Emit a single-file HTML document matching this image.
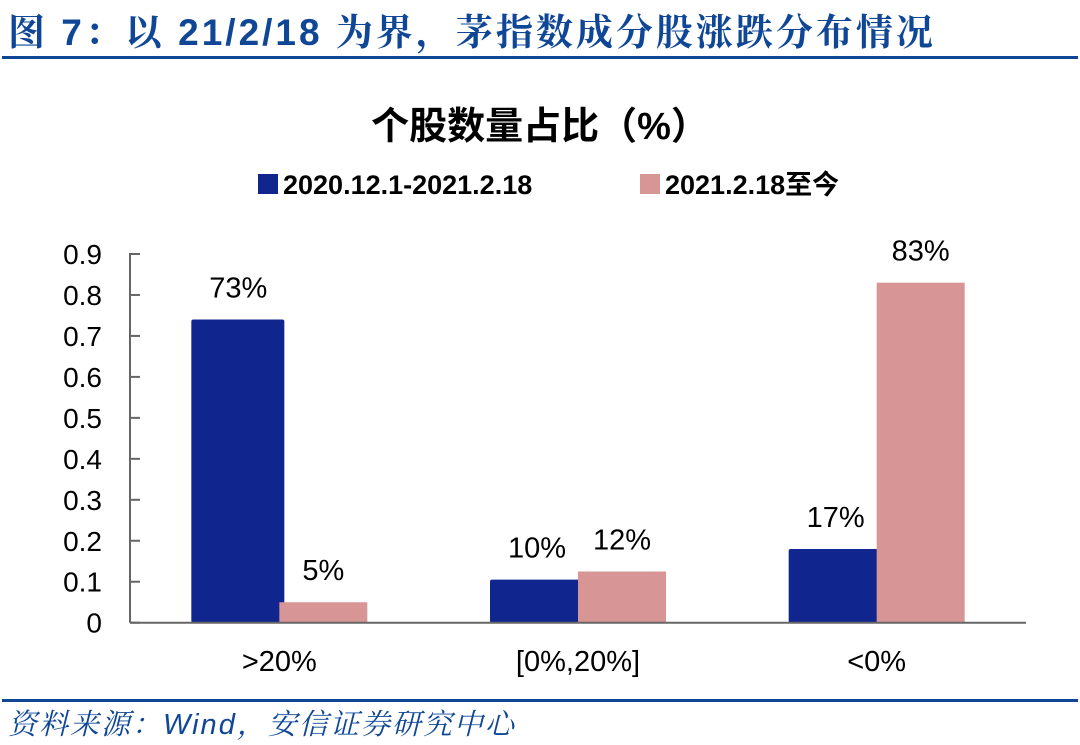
<!DOCTYPE html>
<html><head><meta charset="utf-8"><style>
body{margin:0;background:#fff;width:1080px;height:745px;overflow:hidden;font-family:"Liberation Sans","Noto Sans CJK SC",sans-serif}
.hdr{position:absolute;left:8px;top:2px;font-size:37px;font-weight:bold;color:#0f4796;letter-spacing:3px;font-family:"Liberation Sans","Noto Serif CJK SC",serif;white-space:nowrap}
.line{position:absolute;left:2px;width:1076px;height:3px;background:#0f4796}
.src{position:absolute;left:8px;top:702px;font-size:29px;font-style:italic;color:#0f4796;letter-spacing:2px;font-family:"Liberation Sans","Noto Serif CJK SC",serif;white-space:nowrap}
</style></head><body>
<div class="hdr">图 7：以 21/2/18 为界，茅指数成分股涨跌分布情况</div>
<div class="line" style="top:56px"></div>
<div class="line" style="top:699px"></div>
<div class="src">资料来源：Wind，安信证券研究中心</div>
<svg id="chart" width="1080" height="745" style="position:absolute;left:0;top:0"></svg>
<script>
const categories=[">20%","[0%,20%]","<0%"];
const seriesA=[0.74,0.105,0.18];
const seriesB=[0.05,0.125,0.83];
const labelsA=["73%","10%","17%"];
const labelsB=["5%","12%","83%"];
const yTicks=[0,0.1,0.2,0.3,0.4,0.5,0.6,0.7,0.8,0.9];
const yTickLabels=["0","0.1","0.2","0.3","0.4","0.5","0.6","0.7","0.8","0.9"];
const seriesNames=["2020.12.1-2021.2.18","2021.2.18至今"];
const svg=document.getElementById('chart');
const NS="http://www.w3.org/2000/svg";
const x0=130,x1=1026,yb=622.7,yt=254,ymax=0.9;
const y=v=>yb-(v/ymax)*(yb-yt);
const bw=(x1-x0)/categories.length;
const cx=i=>x0+bw*(i+0.5);
function mk(t,a,txt){const e=document.createElementNS(NS,t);for(const k in a)e.setAttribute(k,a[k]);if(txt!=null)e.textContent=txt;svg.appendChild(e);return e;}
let e;
e=mk('text',{x:540,y:139,'text-anchor':'middle','font-size':38,'font-weight':'bold',fill:'#000'},'个股数量占比（%）');


const cols=['#10268e','#d89595'];
const legX=[258,640];
seriesNames.forEach((n,i)=>{
 e=mk('rect',{x:legX[i],y:174,width:20,height:20,fill:cols[i]});
 
 
 e=mk('text',{x:legX[i]+25,y:194,'font-size':27,'font-weight':'bold',fill:'#000'},n);
 
 
});
e=mk('line',{x1:x0,y1:yt-1,x2:x0,y2:yb,stroke:'#666','stroke-width':2});


yTicks.forEach((t,i)=>{
 e=mk('line',{x1:x0,y1:y(t),x2:x0+10,y2:y(t),stroke:'#666','stroke-width':2});
 
 
 e=mk('text',{x:102,y:y(t)+10,'text-anchor':'end','font-size':28,fill:'#000'},yTickLabels[i]);
 
 
});
categories.forEach((c,i)=>{
 const c0=cx(i);
 e=mk('rect',{x:c0-88,y:y(seriesA[i]),width:93,height:yb-y(seriesA[i]),fill:cols[0],rx:2});
 
 
 e=mk('rect',{x:c0,y:y(seriesB[i]),width:88,height:yb-y(seriesB[i]),fill:cols[1]});
 
 
 e=mk('text',{x:c0-41,y:y(seriesA[i])-22,'text-anchor':'middle','font-size':29,fill:'#000'},labelsA[i]);
 
 
 e=mk('text',{x:c0+44,y:y(seriesB[i])-22,'text-anchor':'middle','font-size':29,fill:'#000'},labelsB[i]);
 
 
 e=mk('text',{x:c0,y:671,'text-anchor':'middle','font-size':29,fill:'#000'},c);
 
 
});
e=mk('line',{x1:x0,y1:yb,x2:x1,y2:yb,stroke:'#666','stroke-width':2});


</script>
</body></html>
